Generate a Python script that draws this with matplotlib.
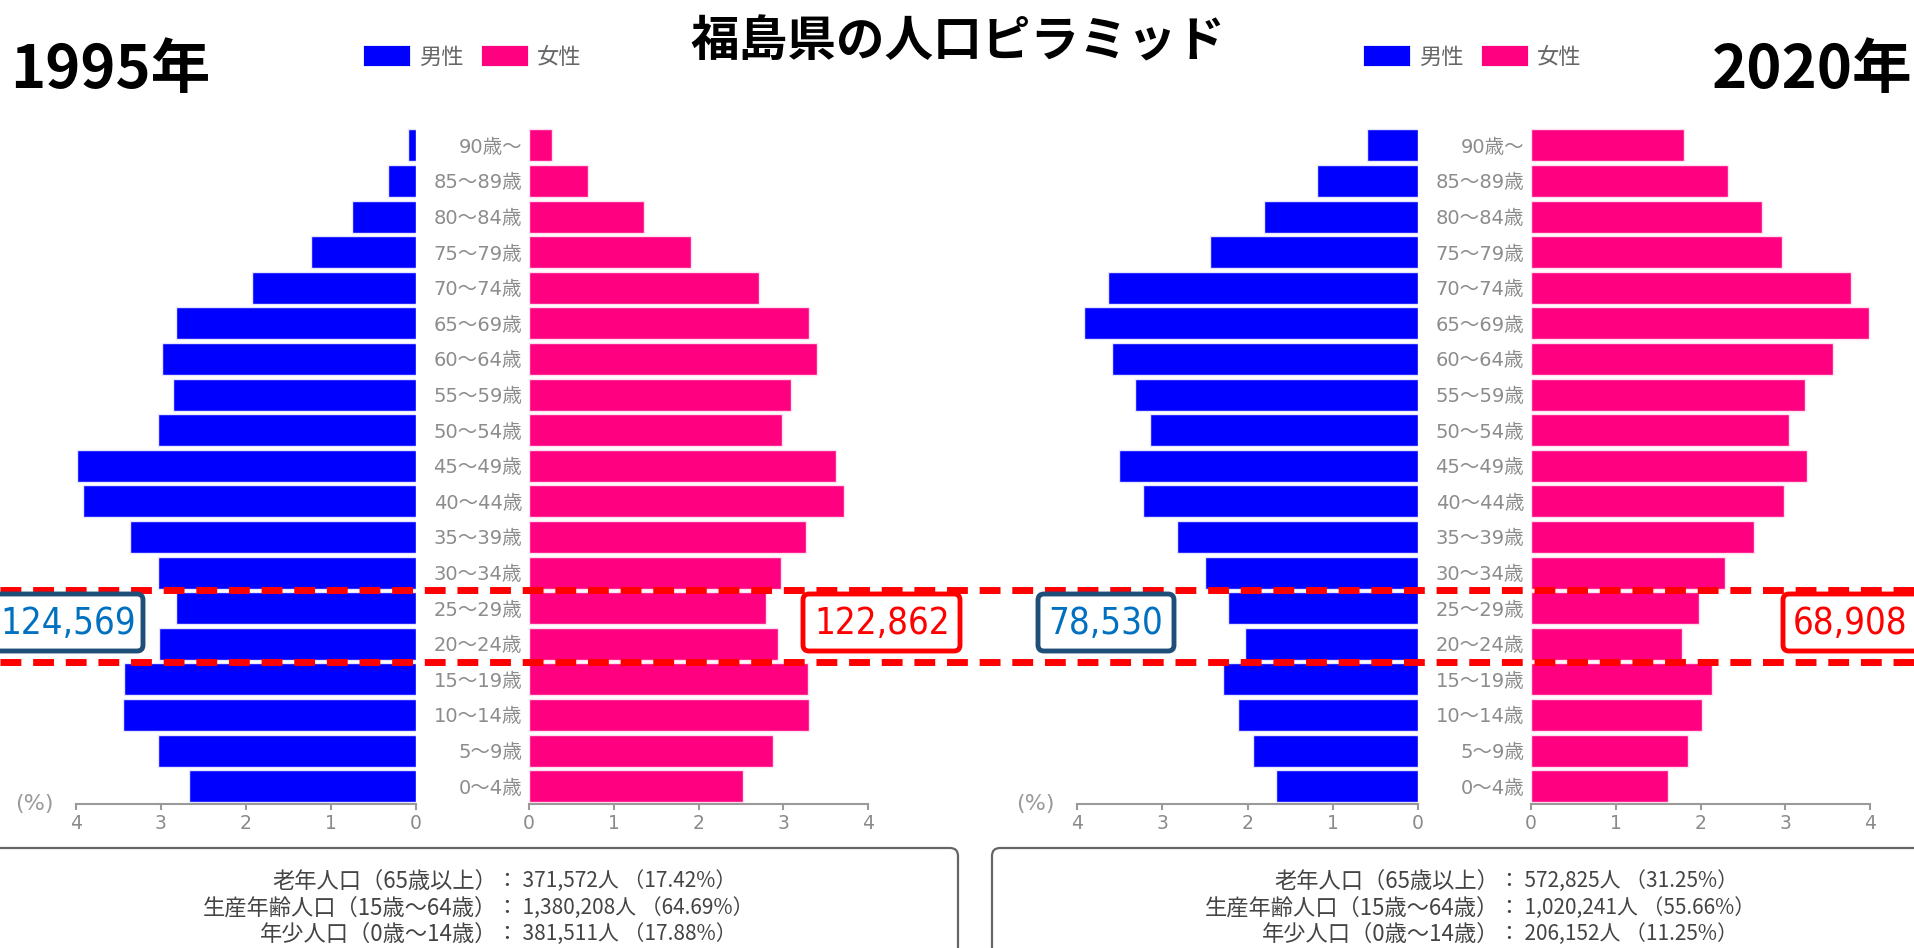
import matplotlib
matplotlib.use('Agg')
import matplotlib.pyplot as plt
import matplotlib.transforms as mtransforms
from matplotlib.patches import FancyBboxPatch, Patch
from matplotlib.lines import Line2D
from matplotlib import font_manager
from matplotlib.font_manager import FontProperties

plt.rcParams['font.family'] = ['DejaVu Sans', 'Noto Sans CJK JP']

# データ（下から 0～4歳 ... 90歳～）
ages = ['0～4歳', '5～9歳', '10～14歳', '15～19歳', '20～24歳', '25～29歳',
        '30～34歳', '35～39歳', '40～44歳', '45～49歳', '50～54歳', '55～59歳',
        '60～64歳', '65～69歳', '70～74歳', '75～79歳', '80～84歳', '85～89歳', '90歳～']

male_1995 = [2.67, 3.04, 3.45, 3.43, 3.02, 2.82, 3.04, 3.37, 3.92, 3.99,
             3.04, 2.86, 2.99, 2.82, 1.93, 1.23, 0.75, 0.33, 0.10]
female_1995 = [2.53, 2.88, 3.30, 3.29, 2.94, 2.80, 2.97, 3.27, 3.72, 3.62,
               2.98, 3.09, 3.40, 3.30, 2.71, 1.91, 1.36, 0.70, 0.27]
male_2020 = [1.67, 1.94, 2.11, 2.29, 2.03, 2.23, 2.50, 2.83, 3.22, 3.51,
             3.14, 3.32, 3.59, 3.92, 3.64, 2.44, 1.81, 1.18, 0.60]
female_2020 = [1.62, 1.85, 2.02, 2.13, 1.78, 1.98, 2.29, 2.63, 2.98, 3.26,
               3.04, 3.23, 3.56, 3.99, 3.78, 2.96, 2.73, 2.33, 1.81]

xticks = [0, 1, 2, 3, 4]

stats_labels = ['老年人口（65歳以上）', '生産年齢人口（15歳～64歳）', '年少人口（0歳～14歳）']
stats_1995 = ['371,572人', '1,380,208人', '381,511人']
pct_1995 = ['17.42%', '64.69%', '17.88%']
stats_2020 = ['572,825人', '1,020,241人', '206,152人']
pct_2020 = ['31.25%', '55.66%', '11.25%']

# 20～29歳（25～29歳＋20～24歳）の人数
count_1995 = ['124,569', '122,862']
count_2020 = ['78,530', '68,908']

W, H = 1914, 948
BLUE = '#0000ff'
PINK = '#ff0080'
CJK = ['Noto Sans CJK JP']

fig = plt.figure(figsize=(W / 100, H / 100), dpi=100)
px = mtransforms.IdentityTransform()

# 枠内の数字用に細めのフォントを探す
narrow = None
for f in font_manager.fontManager.ttflist:
    if ('Narrow' in f.name or 'Condensed' in f.name or f.stretch in ('condensed', 'semi-condensed')) \
            and f.weight in (400, 'normal', 'regular') and f.style == 'normal':
        if narrow is None or 'Liberation' in f.name:
            narrow = f
num_prop = FontProperties(fname=narrow.fname) if narrow else FontProperties(family='Liberation Sans')


def add_ax(x0, x1, y0, y1):
    return fig.add_axes([x0 / W, 1 - y1 / H, (x1 - x0) / W, (y1 - y0) / H])


def style_ax(ax):
    for s in ['top', 'left', 'right']:
        ax.spines[s].set_visible(False)
    ax.spines['bottom'].set_color('#9a9a9a')
    ax.spines['bottom'].set_linewidth(1.5)
    ax.set_xticks(xticks)
    ax.tick_params(axis='x', colors='#9a9a9a', length=4.5, width=1.5,
                   labelsize=13.5, labelcolor='#8a8a8a', pad=3)
    ax.set_ylim(-0.5, len(ages) - 0.5)


def pyramid(male, female, xm0, xm1, xf0, xf1):
    y = list(range(len(ages)))
    top, bottom = 804 - 35.6 * len(ages), 804
    axm = add_ax(xm0, xm1, top, bottom)
    axf = add_ax(xf0, xf1, top, bottom)
    axm.barh(y, male, height=0.9, color=BLUE, edgecolor='#e6e6ff', linewidth=1)
    axf.barh(y, female, height=0.9, color=PINK, edgecolor='#ffe0ef', linewidth=1)
    axm.set_xlim(4, 0)
    axf.set_xlim(0, 4)
    style_ax(axm)
    style_ax(axf)
    axm.set_yticks([])
    axf.set_yticks(y)
    axf.set_yticklabels(ages, fontsize=14, color='#8c8c8c')
    axf.tick_params(axis='y', length=0, pad=5)
    return axm, axf


axm1, axf1 = pyramid(male_1995, female_1995, 76, 416, 529, 868)
axm2, axf2 = pyramid(male_2020, female_2020, 1077, 1418, 1531, 1870)

# (%)
for x in [34, 1035]:
    fig.text(x / W, 1 - 804 / H, '(%)', fontsize=16, color='#9a9a9a', ha='center', va='center')

# 凡例
handles = [Patch(facecolor=BLUE, edgecolor=BLUE, linewidth=3, joinstyle='round'),
           Patch(facecolor=PINK, edgecolor=PINK, linewidth=3, joinstyle='round')]
for cx in [474, 1474]:
    fig.legend(handles, ['男性', '女性'], loc='center', bbox_to_anchor=(cx / W, 1 - 57 / H),
               ncol=2, frameon=False, prop={'family': CJK, 'size': 16}, labelcolor='#666666',
               handlelength=1.9, handleheight=0.7, handletextpad=0.5, columnspacing=0.9)

# タイトル
fig.text(958 / W, 1 - 42 / H, '福島県の人口ピラミッド', fontsize=35, fontweight='bold',
         family=CJK, ha='center', va='center')
fig.text(10 / W, 1 - 71 / H, '1995年', fontsize=43, fontweight='bold',
         family=CJK, ha='left', va='center')
fig.text(1913 / W, 1 - 71 / H, '2020年', fontsize=43, fontweight='bold',
         family=CJK, ha='right', va='center')

# 赤い点線（20～29歳の範囲）
tr = mtransforms.blended_transform_factory(fig.transFigure, axm1.transData)
for yv in [3.5, 5.5]:
    fig.add_artist(Line2D([0, 1], [yv, yv], transform=tr, color='#ff0000', lw=5,
                          linestyle=(0, (3.0, 1.7)), zorder=5))

# 人数の枠（文字幅を枠に合わせる）
renderer = fig.canvas.get_renderer()
probe = fig.text(0, 0, count_1995[1], fontproperties=num_prop, fontsize=35)
num_size = 35 * 136 / probe.get_window_extent(renderer).width
probe.remove()

boxes = [
    (-12, 143, '#1f4e79', '#0070c0', count_1995[0], 136, 'right'),
    (803, 960, '#ff0000', '#ff0000', count_1995[1], 882, 'center'),
    (1038, 1174, '#1f4e79', '#0070c0', count_2020[0], 1106, 'center'),
    (1783, 1930, '#ff0000', '#ff0000', count_2020[1], 1793, 'left'),
]
for x0, x1, ec, tc, label, tx, ha in boxes:
    fig.add_artist(FancyBboxPatch((x0, H - 651), x1 - x0, 57,
                                  boxstyle='round,pad=0,rounding_size=6',
                                  fc='white', ec=ec, lw=3.5, transform=px, zorder=6))
    t = fig.text(tx / W, 1 - 623 / H, label, color=tc, fontproperties=num_prop,
                 ha=ha, va='center', zorder=7)
    t.set_fontsize(num_size)

# 下の集計枠
for x0, x1 in [(-12, 958), (992, 1930)]:
    fig.add_artist(FancyBboxPatch((x0, -20), x1 - x0, H - 848 + 20,
                                  boxstyle='round,pad=0,rounding_size=8',
                                  fc='none', ec='#666666', lw=1.6, transform=px))

for cx, vals, pcts in [(497, stats_1995, pct_1995), (1499, stats_2020, pct_2020)]:
    for i, yy in enumerate([881, 908, 934]):
        fig.text(cx / W, 1 - yy / H, stats_labels[i], fontsize=16, color='#444444',
                 family=CJK, ha='right', va='center')
        fig.text(cx / W, 1 - yy / H, '： ' + vals[i] + ' （' + pcts[i] + '）', fontsize=15,
                 color='#444444', family=CJK, ha='left', va='center')

fig.savefig('out.png', dpi=100)
